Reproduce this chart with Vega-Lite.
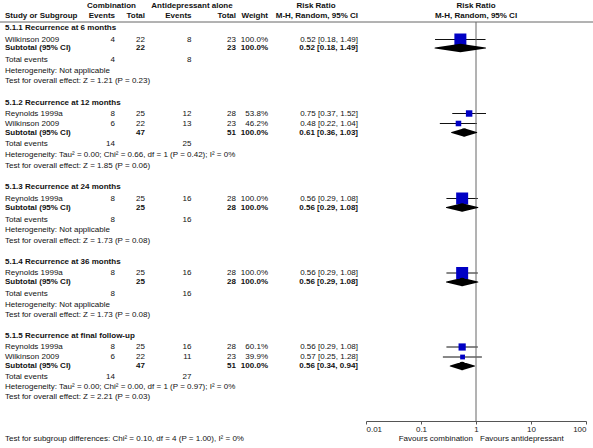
{
  "$schema": "https://vega.github.io/schema/vega-lite/v6.json",
  "width": 593,
  "height": 448,
  "padding": 0,
  "autosize": {"type": "none"},
  "config": {"view": {"stroke": null}, "font": "Liberation Sans", "text": {"fontSize": 8, "font": "Liberation Sans", "color": "#111"}},
  "datasets": {
    "rows": [
      {"row": 0, "kind": "head1", "hc": "Combination", "ha": "Antidepressant alone", "hr": "Risk Ratio"},
      {"row": 1, "kind": "head2", "label": "Study or Subgroup", "ce": "Events", "ct": "Total", "ae": "Events", "at": "Total", "w": "Weight", "rr": "M-H, Random, 95% CI"},
      {"row": 2, "kind": "section", "label": "5.1.1 Recurrence at 6 months"},
      {"row": 3, "kind": "study", "label": "Wilkinson 2009", "ce": 4, "ct": 22, "ae": 8, "at": 23, "w": "100.0%", "rr": "0.52 [0.18, 1.49]", "est": 0.52, "lo": 0.18, "hi": 1.49, "weight": 100},
      {"row": 4, "kind": "subtotal", "label": "Subtotal (95% CI)", "ct": 22, "at": 23, "w": "100.0%", "rr": "0.52 [0.18, 1.49]", "est": 0.52, "lo": 0.18, "hi": 1.49},
      {"row": 5, "kind": "total", "label": "Total events", "ce": 4, "ae": 8},
      {"row": 6, "kind": "note", "label": "Heterogeneity: Not applicable"},
      {"row": 7, "kind": "note", "label": "Test for overall effect: Z = 1.21 (P = 0.23)"},
      {"row": 8, "kind": "section", "label": "5.1.2 Recurrence at 12 months"},
      {"row": 9, "kind": "study", "label": "Reynolds 1999a", "ce": 8, "ct": 25, "ae": 12, "at": 28, "w": "53.8%", "rr": "0.75 [0.37, 1.52]", "est": 0.75, "lo": 0.37, "hi": 1.52, "weight": 53.8},
      {"row": 10, "kind": "study", "label": "Wilkinson 2009", "ce": 6, "ct": 22, "ae": 13, "at": 23, "w": "46.2%", "rr": "0.48 [0.22, 1.04]", "est": 0.48, "lo": 0.22, "hi": 1.04, "weight": 46.2},
      {"row": 11, "kind": "subtotal", "label": "Subtotal (95% CI)", "ct": 47, "at": 51, "w": "100.0%", "rr": "0.61 [0.36, 1.03]", "est": 0.61, "lo": 0.36, "hi": 1.03},
      {"row": 12, "kind": "total", "label": "Total events", "ce": 14, "ae": 25},
      {"row": 13, "kind": "note", "label": "Heterogeneity: Tau² = 0.00; Chi² = 0.66, df = 1 (P = 0.42); I² = 0%"},
      {"row": 14, "kind": "note", "label": "Test for overall effect: Z = 1.85 (P = 0.06)"},
      {"row": 15, "kind": "section", "label": "5.1.3 Recurrence at 24 months"},
      {"row": 16, "kind": "study", "label": "Reynolds 1999a", "ce": 8, "ct": 25, "ae": 16, "at": 28, "w": "100.0%", "rr": "0.56 [0.29, 1.08]", "est": 0.56, "lo": 0.29, "hi": 1.08, "weight": 100},
      {"row": 17, "kind": "subtotal", "label": "Subtotal (95% CI)", "ct": 25, "at": 28, "w": "100.0%", "rr": "0.56 [0.29, 1.08]", "est": 0.56, "lo": 0.29, "hi": 1.08},
      {"row": 18, "kind": "total", "label": "Total events", "ce": 8, "ae": 16},
      {"row": 19, "kind": "note", "label": "Heterogeneity: Not applicable"},
      {"row": 20, "kind": "note", "label": "Test for overall effect: Z = 1.73 (P = 0.08)"},
      {"row": 21, "kind": "section", "label": "5.1.4 Recurrence at 36 months"},
      {"row": 22, "kind": "study", "label": "Reynolds 1999a", "ce": 8, "ct": 25, "ae": 16, "at": 28, "w": "100.0%", "rr": "0.56 [0.29, 1.08]", "est": 0.56, "lo": 0.29, "hi": 1.08, "weight": 100},
      {"row": 23, "kind": "subtotal", "label": "Subtotal (95% CI)", "ct": 25, "at": 28, "w": "100.0%", "rr": "0.56 [0.29, 1.08]", "est": 0.56, "lo": 0.29, "hi": 1.08},
      {"row": 24, "kind": "total", "label": "Total events", "ce": 8, "ae": 16},
      {"row": 25, "kind": "note", "label": "Heterogeneity: Not applicable"},
      {"row": 26, "kind": "note", "label": "Test for overall effect: Z = 1.73 (P = 0.08)"},
      {"row": 27, "kind": "section", "label": "5.1.5 Recurrence at final follow-up"},
      {"row": 28, "kind": "study", "label": "Reynolds 1999a", "ce": 8, "ct": 25, "ae": 16, "at": 28, "w": "60.1%", "rr": "0.56 [0.29, 1.08]", "est": 0.56, "lo": 0.29, "hi": 1.08, "weight": 60.1},
      {"row": 29, "kind": "study", "label": "Wilkinson 2009", "ce": 6, "ct": 22, "ae": 11, "at": 23, "w": "39.9%", "rr": "0.57 [0.25, 1.28]", "est": 0.57, "lo": 0.25, "hi": 1.28, "weight": 39.9},
      {"row": 30, "kind": "subtotal", "label": "Subtotal (95% CI)", "ct": 47, "at": 51, "w": "100.0%", "rr": "0.56 [0.34, 0.94]", "est": 0.56, "lo": 0.34, "hi": 0.94},
      {"row": 31, "kind": "total", "label": "Total events", "ce": 14, "ae": 27},
      {"row": 32, "kind": "note", "label": "Heterogeneity: Tau² = 0.00; Chi² = 0.00, df = 1 (P = 0.97); I² = 0%"},
      {"row": 33, "kind": "note", "label": "Test for overall effect: Z = 2.21 (P = 0.03)"},
      {"row": 35, "kind": "note", "label": "Test for subgroup differences: Chi² = 0.10, df = 4 (P = 1.00), I² = 0%"}
    ],
    "cols": [
      {"key": "label", "col": 0},
      {"key": "ce", "col": 1},
      {"key": "ct", "col": 2},
      {"key": "ae", "col": 3},
      {"key": "at", "col": 4},
      {"key": "w", "col": 5},
      {"key": "rr", "col": 6},
      {"key": "hc", "col": 7},
      {"key": "ha", "col": 8},
      {"key": "hr", "col": 9}
    ]
  },
  "data": {"name": "rows"},
  "encoding": {
    "y": {
      "field": "row",
      "type": "quantitative",
      "scale": {
        "domain": [0,1,2,3,4,5,6,7,8,9,10,11,12,13,14,15,16,17,18,19,20,21,22,23,24,25,26,27,28,29,30,31,32,33,34,35],
        "range": [6,16,28,39.5,48,60,70.5,80.5,102.5,113.5,123.5,132.5,144,155,165.5,187,198.5,207.5,219.5,230,240.5,261.5,273,282,294,304.5,315,336,347,357,366,377,387,397,421,439],
        "zero": false,
        "nice": false
      },
      "axis": null
    }
  },
  "layer": [
    {
      "transform": [
        {"fold": ["label","ce","ct","ae","at","w","rr","hc","ha","hr"], "as": ["key","value"]},
        {"filter": "isValid(datum.value) && datum.value !== ''"},
        {"lookup": "key", "from": {"data": {"name": "cols"}, "key": "key", "fields": ["col"]}}
      ],
      "encoding": {
        "x": {
          "field": "col",
          "type": "quantitative",
          "scale": {"domain": [0,1,2,3,4,5,6,7,8,9], "range": [5,115,145,191.5,236,268,358,111.5,192,316], "zero": false, "nice": false},
          "axis": null
        },
        "text": {"field": "value", "type": "nominal"}
      },
      "layer": [
        {
          "transform": [{"filter": "datum.key === 'label' && (datum.kind === 'study' || datum.kind === 'total' || datum.kind === 'note')"}],
          "mark": {"type": "text", "align": "left", "baseline": "middle"}
        },
        {
          "transform": [{"filter": "datum.key === 'label' && (datum.kind === 'head2' || datum.kind === 'section' || datum.kind === 'subtotal')"}],
          "mark": {"type": "text", "align": "left", "baseline": "middle", "fontWeight": "bold"}
        },
        {
          "transform": [{"filter": "datum.col >= 1 && datum.col <= 6 && (datum.kind === 'study' || datum.kind === 'total')"}],
          "mark": {"type": "text", "align": "right", "baseline": "middle"}
        },
        {
          "transform": [{"filter": "datum.col >= 1 && datum.col <= 6 && (datum.kind === 'head2' || datum.kind === 'subtotal')"}],
          "mark": {"type": "text", "align": "right", "baseline": "middle", "fontWeight": "bold"}
        },
        {
          "transform": [{"filter": "datum.col >= 7"}],
          "mark": {"type": "text", "align": "center", "baseline": "middle", "fontWeight": "bold"}
        }
      ]
    },
    {
      "data": {"values": [{"row": 1.5}]},
      "mark": {"type": "rule", "color": "#666", "strokeWidth": 1},
      "encoding": {}
    },
    {
      "layer": [
        {
          "transform": [{"filter": "datum.kind === 'study'"}],
          "mark": {"type": "rule", "color": "#111", "strokeWidth": 1},
          "encoding": {
            "x": {
              "field": "lo",
              "type": "quantitative",
              "scale": {"type": "log", "domain": [0.01, 100], "range": [366, 586], "nice": false},
              "axis": {
                "values": [0.01, 0.1, 1, 10, 100],
                "format": "~g",
                "offset": -27,
                "tickSize": 3,
                "labelFontSize": 8,
                "labelFont": "Liberation Sans",
                "labelColor": "#222",
                "labelPadding": 1,
                "labelFlush": true,
                "labelOverlap": false,
                "domainColor": "#555",
                "tickColor": "#555",
                "grid": false,
                "title": null
              }
            },
            "x2": {"field": "hi"}
          }
        },
        {
          "data": {"values": [{"ref": 1, "row": 1.5, "row2": 34}]},
          "mark": {"type": "rule", "color": "#666", "strokeWidth": 1},
          "encoding": {
            "x": {"field": "ref", "type": "quantitative"},
            "y2": {"field": "row2"}
          }
        },
        {
          "transform": [{"filter": "datum.kind === 'study'"}],
          "mark": {"type": "point", "shape": "square", "filled": true, "opacity": 1, "color": "#0000c4"},
          "encoding": {
            "x": {"field": "est", "type": "quantitative"},
            "size": {"field": "weight", "type": "quantitative", "scale": {"type": "pow", "exponent": 2, "domain": [0, 100], "range": [0, 144]}, "legend": null}
          }
        },
        {
          "transform": [
            {"filter": "datum.kind === 'subtotal'"},
            {"fold": ["lo", "est", "hi"], "as": ["vk", "vx"]}
          ],
          "mark": {"type": "trail", "color": "#000"},
          "encoding": {
            "x": {"field": "vx", "type": "quantitative"},
            "detail": {"field": "row", "type": "nominal"},
            "order": {"field": "vx", "type": "quantitative"},
            "size": {"condition": {"test": "datum.vk === 'est'", "value": 8.5}, "value": 0}
          }
        },
        {
          "data": {"values": [{"row": 0, "ref": 1, "t": "Risk Ratio"}, {"row": 1, "ref": 1, "t": "M-H, Random, 95% CI"}]},
          "mark": {"type": "text", "align": "center", "baseline": "middle", "fontWeight": "bold"},
          "encoding": {
            "x": {"field": "ref", "type": "quantitative"},
            "text": {"field": "t", "type": "nominal"}
          }
        },
        {
          "data": {"values": [{"row": 35, "ref": 1, "t": "Favours combination"}]},
          "mark": {"type": "text", "align": "right", "baseline": "middle", "dx": -3},
          "encoding": {
            "x": {"field": "ref", "type": "quantitative"},
            "text": {"field": "t", "type": "nominal"}
          }
        },
        {
          "data": {"values": [{"row": 35, "ref": 1, "t": "Favours antidepressant"}]},
          "mark": {"type": "text", "align": "left", "baseline": "middle", "dx": 4},
          "encoding": {
            "x": {"field": "ref", "type": "quantitative"},
            "text": {"field": "t", "type": "nominal"}
          }
        }
      ]
    }
  ],
  "resolve": {"scale": {"x": "independent"}, "axis": {"x": "independent"}}
}
